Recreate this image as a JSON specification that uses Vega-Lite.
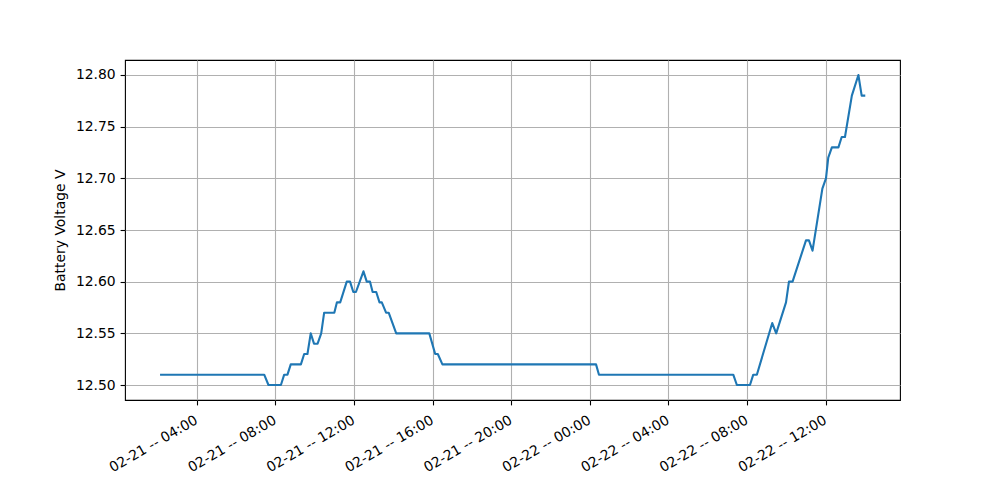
{
  "$schema": "https://vega.github.io/schema/vega-lite/v6.json",
  "autosize": {"type": "none"},
  "padding": {"left": 125, "top": 60, "right": 100, "bottom": 100},
  "width": 775,
  "height": 340,
  "background": "white",
  "config": {
    "view": {"stroke": "black", "strokeWidth": 1.1},
    "font": "DejaVu Sans",
    "axis": {
      "labelFont": "DejaVu Sans",
      "titleFont": "DejaVu Sans",
      "labelFontSize": 13.9,
      "titleFontSize": 13.9,
      "labelColor": "black",
      "titleColor": "black",
      "titleFontWeight": "normal",
      "tickColor": "black",
      "tickSize": 4.9,
      "tickWidth": 1.1,
      "labelPadding": 4.9,
      "domain": false,
      "grid": true,
      "gridColor": "#b0b0b0",
      "gridWidth": 1.1
    }
  },
  "data": {
    "values": [
      {"t": "2024-02-21T02:08:00Z", "v": 12.51},
      {"t": "2024-02-21T07:26:00Z", "v": 12.51},
      {"t": "2024-02-21T07:39:00Z", "v": 12.50},
      {"t": "2024-02-21T08:17:00Z", "v": 12.50},
      {"t": "2024-02-21T08:27:00Z", "v": 12.51},
      {"t": "2024-02-21T08:37:00Z", "v": 12.51},
      {"t": "2024-02-21T08:47:00Z", "v": 12.52},
      {"t": "2024-02-21T09:18:00Z", "v": 12.52},
      {"t": "2024-02-21T09:28:00Z", "v": 12.53},
      {"t": "2024-02-21T09:38:00Z", "v": 12.53},
      {"t": "2024-02-21T09:48:00Z", "v": 12.55},
      {"t": "2024-02-21T09:58:00Z", "v": 12.54},
      {"t": "2024-02-21T10:09:00Z", "v": 12.54},
      {"t": "2024-02-21T10:20:00Z", "v": 12.55},
      {"t": "2024-02-21T10:29:00Z", "v": 12.57},
      {"t": "2024-02-21T11:00:00Z", "v": 12.57},
      {"t": "2024-02-21T11:08:00Z", "v": 12.58},
      {"t": "2024-02-21T11:18:00Z", "v": 12.58},
      {"t": "2024-02-21T11:38:00Z", "v": 12.60},
      {"t": "2024-02-21T11:48:00Z", "v": 12.60},
      {"t": "2024-02-21T11:58:00Z", "v": 12.59},
      {"t": "2024-02-21T12:06:00Z", "v": 12.59},
      {"t": "2024-02-21T12:29:00Z", "v": 12.61},
      {"t": "2024-02-21T12:39:00Z", "v": 12.60},
      {"t": "2024-02-21T12:49:00Z", "v": 12.60},
      {"t": "2024-02-21T12:57:00Z", "v": 12.59},
      {"t": "2024-02-21T13:08:00Z", "v": 12.59},
      {"t": "2024-02-21T13:18:00Z", "v": 12.58},
      {"t": "2024-02-21T13:25:00Z", "v": 12.58},
      {"t": "2024-02-21T13:38:00Z", "v": 12.57},
      {"t": "2024-02-21T13:46:00Z", "v": 12.57},
      {"t": "2024-02-21T14:09:00Z", "v": 12.55},
      {"t": "2024-02-21T15:50:00Z", "v": 12.55},
      {"t": "2024-02-21T16:08:00Z", "v": 12.53},
      {"t": "2024-02-21T16:16:00Z", "v": 12.53},
      {"t": "2024-02-21T16:30:00Z", "v": 12.52},
      {"t": "2024-02-22T00:19:00Z", "v": 12.52},
      {"t": "2024-02-22T00:28:00Z", "v": 12.51},
      {"t": "2024-02-22T07:18:00Z", "v": 12.51},
      {"t": "2024-02-22T07:29:00Z", "v": 12.50},
      {"t": "2024-02-22T08:09:00Z", "v": 12.50},
      {"t": "2024-02-22T08:19:00Z", "v": 12.51},
      {"t": "2024-02-22T08:30:00Z", "v": 12.51},
      {"t": "2024-02-22T09:17:00Z", "v": 12.56},
      {"t": "2024-02-22T09:29:00Z", "v": 12.55},
      {"t": "2024-02-22T09:59:00Z", "v": 12.58},
      {"t": "2024-02-22T10:08:00Z", "v": 12.60},
      {"t": "2024-02-22T10:19:00Z", "v": 12.60},
      {"t": "2024-02-22T11:00:00Z", "v": 12.64},
      {"t": "2024-02-22T11:09:00Z", "v": 12.64},
      {"t": "2024-02-22T11:20:00Z", "v": 12.63},
      {"t": "2024-02-22T11:50:00Z", "v": 12.69},
      {"t": "2024-02-22T12:01:00Z", "v": 12.70},
      {"t": "2024-02-22T12:08:00Z", "v": 12.72},
      {"t": "2024-02-22T12:19:00Z", "v": 12.73},
      {"t": "2024-02-22T12:39:00Z", "v": 12.73},
      {"t": "2024-02-22T12:49:00Z", "v": 12.74},
      {"t": "2024-02-22T12:59:00Z", "v": 12.74},
      {"t": "2024-02-22T13:20:00Z", "v": 12.78},
      {"t": "2024-02-22T13:40:00Z", "v": 12.80},
      {"t": "2024-02-22T13:50:00Z", "v": 12.78},
      {"t": "2024-02-22T14:01:00Z", "v": 12.78}
    ]
  },
  "mark": {"type": "line", "color": "#1f77b4", "strokeWidth": 2.1, "strokeJoin": "round", "strokeCap": "butt"},
  "encoding": {
    "x": {
      "field": "t",
      "type": "temporal",
      "scale": {
        "type": "utc",
        "domain": [
          {"year": 2024, "month": 2, "date": 21, "hours": 0, "minutes": 21, "utc": true},
          {"year": 2024, "month": 2, "date": 22, "hours": 15, "minutes": 47, "utc": true}
        ],
        "nice": false
      },
      "axis": {
        "title": null,
        "format": "%m-%d -- %H:%M",
        "labelAngle": -30,
        "labelAlign": "right",
        "labelBaseline": "top",
        "labelOverlap": false,
        "labelOffset": -4,
        "labelPadding": 8,
        "values": [
          {"year": 2024, "month": 2, "date": 21, "hours": 4, "utc": true},
          {"year": 2024, "month": 2, "date": 21, "hours": 8, "utc": true},
          {"year": 2024, "month": 2, "date": 21, "hours": 12, "utc": true},
          {"year": 2024, "month": 2, "date": 21, "hours": 16, "utc": true},
          {"year": 2024, "month": 2, "date": 21, "hours": 20, "utc": true},
          {"year": 2024, "month": 2, "date": 22, "hours": 0, "utc": true},
          {"year": 2024, "month": 2, "date": 22, "hours": 4, "utc": true},
          {"year": 2024, "month": 2, "date": 22, "hours": 8, "utc": true},
          {"year": 2024, "month": 2, "date": 22, "hours": 12, "utc": true}
        ]
      }
    },
    "y": {
      "field": "v",
      "type": "quantitative",
      "scale": {"domain": [12.4855, 12.8145], "nice": false, "zero": false},
      "axis": {
        "title": "Battery Voltage V",
        "format": ".2f",
        "values": [12.5, 12.55, 12.6, 12.65, 12.7, 12.75, 12.8],
        "titlePadding": 8
      }
    }
  }
}
